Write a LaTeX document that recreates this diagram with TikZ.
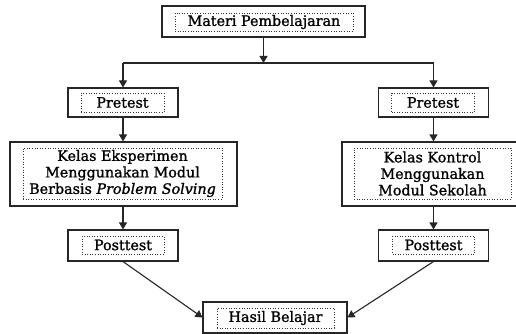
\documentclass[tikz,border=0pt]{standalone}
\usepackage{fontspec}
\setmainfont{DejaVu Serif}[UprightFeatures={FakeBold=1.2},ItalicFeatures={FakeBold=1.2}]
\usetikzlibrary{arrows.meta}
\begin{document}
\begin{tikzpicture}[x=1pt,y=-1pt,
  outer/.style={draw=black!85,line width=1.1pt,inner sep=0pt,fill=white},
  inner/.style={draw=black!80,dotted,line width=0.6pt,inner sep=0pt,align=center,
     font=\fontsize{14.3}{16.5}\selectfont},
  arr/.style={draw=black!85,line width=1.1pt,-{Triangle[width=8pt,length=7pt]}},
  ln/.style={draw=black!85,line width=1.1pt}]
\useasboundingbox (0,0) rectangle (516,334);
\begin{scope}
\clip (0,0) rectangle (516,334);
% top
\node[outer,minimum width=203,minimum height=31] (m) at (263.5,21.5) {};
\node[inner,minimum width=178,minimum height=18] (mi) at (264,22) {Materi Pembelajaran};
% pretest
\node[outer,minimum width=110,minimum height=29] (pl) at (123,102.5) {};
\node[inner,minimum width=83,minimum height=19] at (122.5,102.5) {Pretest};
\node[outer,minimum width=110,minimum height=29] (pr) at (433.5,102.5) {};
\node[inner,minimum width=83,minimum height=19] at (433,102.5) {Pretest};
% kelas
\node[outer,minimum width=227,minimum height=64] (kl) at (123.5,174) {};
\node[inner,minimum width=199,minimum height=51] at (122.5,173.5) {Kelas Eksperimen\\Menggunakan Modul\\Berbasis \textit{Problem Solving}};
\node[outer,minimum width=182,minimum height=64] (kr) at (433,174) {};
\node[inner,minimum width=157,minimum height=51] at (432.5,173.5) {Kelas Kontrol\\Menggunakan\\Modul Sekolah};
% posttest
\node[outer,minimum width=110,minimum height=31] (ql) at (123,245.5) {};
\node[inner,minimum width=82,minimum height=18] at (123,245) {Posttest};
\node[outer,minimum width=110,minimum height=31] (qr) at (433.5,245.5) {};
\node[inner,minimum width=82,minimum height=18] at (433.5,245) {Posttest};
% hasil
\node[outer,minimum width=144,minimum height=31] (h) at (275,317.5) {};
\node[inner,minimum width=117,minimum height=20] at (275.5,318) {Hasil Belajar};
% connectors
\coordinate (j) at (m.south |- 0,63);
\coordinate (jl) at (pl.north |- 0,63);
\coordinate (jr) at (pr.north |- 0,63);
\draw[arr] (m.south) -- (j);
\draw[ln] (jl) -- (jr);
\draw[arr] (jl) -- (pl.north);
\draw[arr] (jr) -- (pr.north);
\draw[arr] (pl.south) -- (kl.north -| pl.south);
\draw[arr] (pr.south) -- (kr.north -| pr.south);
\draw[arr] (kl.south -| pl.south) -- (ql.north);
\draw[arr] (kr.south -| pr.south) -- (qr.north);
\draw[arr] (ql.south) -- (h.west);
\draw[arr] (qr.south) -- (h.east);
\end{scope}
\end{tikzpicture}
\end{document}
